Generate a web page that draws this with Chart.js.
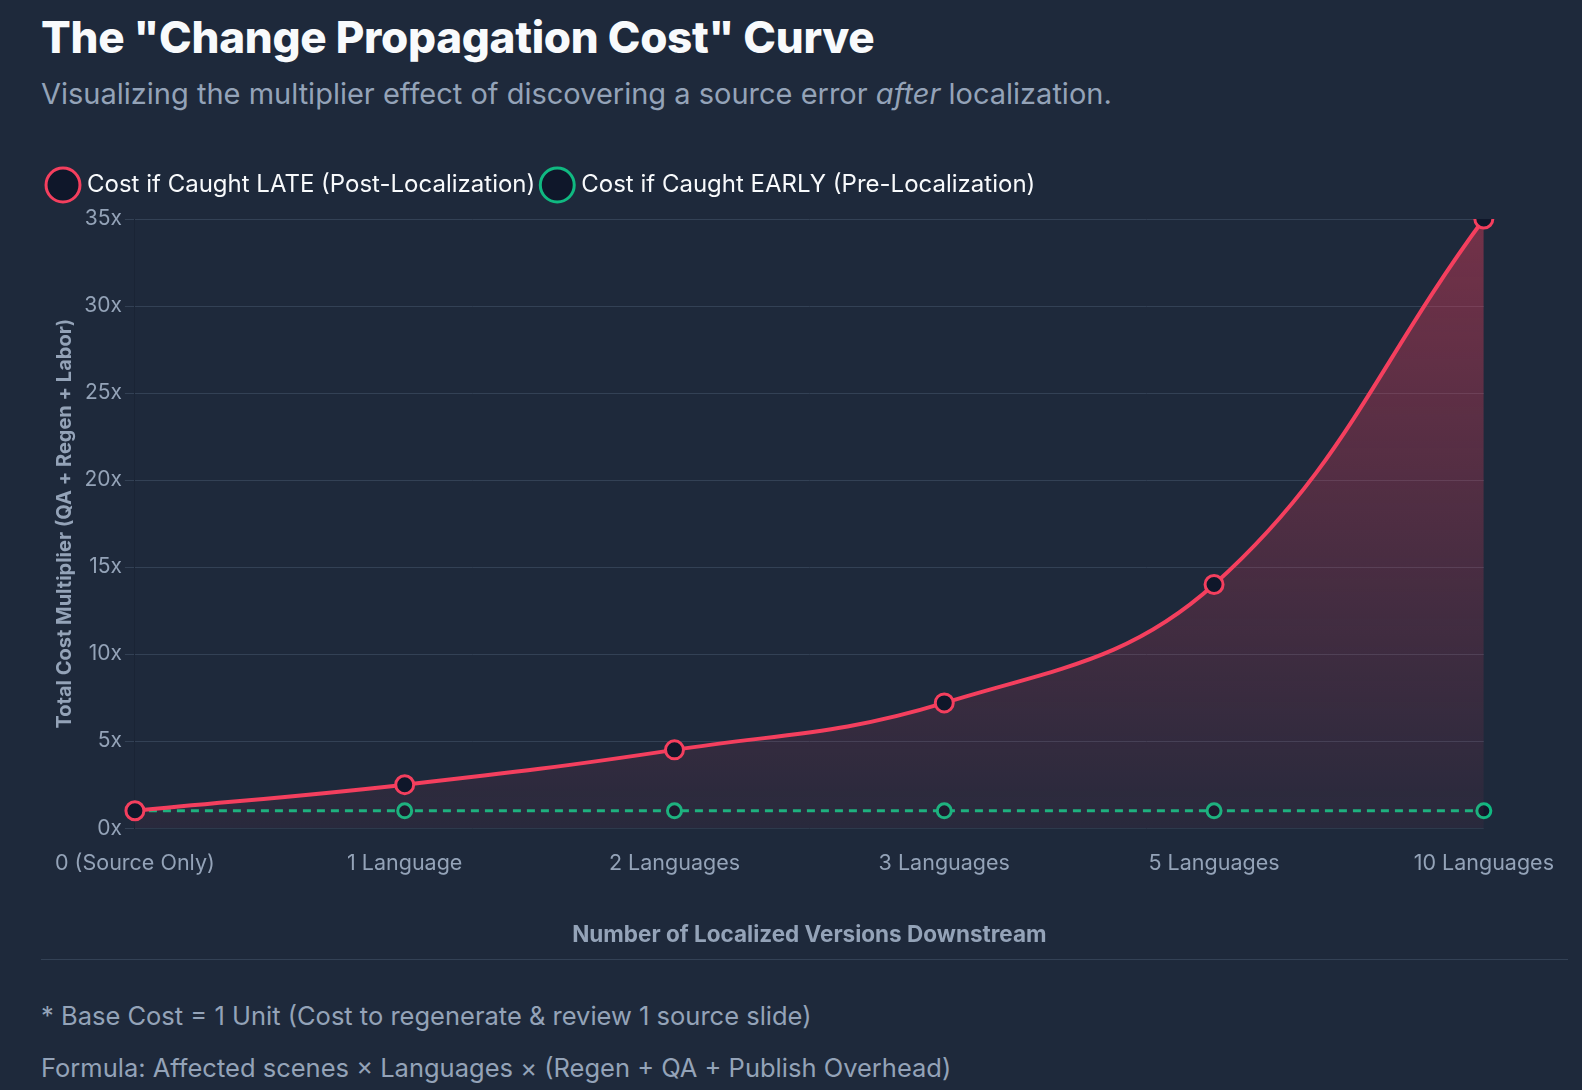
<!DOCTYPE html>
<html><head><meta charset="utf-8">
<script src="https://cdn.jsdelivr.net/npm/chart.js@4"></script>
<style>
body{margin:0;background:#1e293b;font-family:Inter,"Noto Sans",sans-serif;color:#f8fafc;}
.wrap{padding:0 14px 0 41px;}
h1{margin:0;padding-top:10px;font-size:44px;font-weight:800;letter-spacing:-0.3px;}
.sub{margin:12px 0 0;font-size:29px;color:#94a3b8;}
.box{position:relative;height:790px;margin-top:52px;}
hr{border:0;border-top:1px solid #334155;margin:6px 0 0;}
.foot{color:#94a3b8;font-size:25.5px;margin-top:30px;line-height:52px;}
</style></head><body>
<div class="wrap">
<h1>The "Change Propagation Cost" Curve</h1>
<p class="sub">Visualizing the multiplier effect of discovering a source error <i>after</i> localization.</p>
<div class="box"><canvas id="c"></canvas></div>
<hr>
<div class="foot">* Base Cost = 1 Unit (Cost to regenerate &amp; review 1 source slide)<br>Formula: Affected scenes × Languages × (Regen + QA + Publish Overhead)</div>
</div>
<script>
const categories = ['0 (Source Only)', '1 Language', '2 Languages', '3 Languages', '5 Languages', '10 Languages'];
const lateCost = [1, 2.5, 4.5, 7.2, 14, 35];
const earlyCost = [1, 1, 1, 1, 1, 1];

const ctx = document.getElementById('c').getContext('2d');
Chart.defaults.font.family = 'Inter, "Noto Sans", sans-serif';
const legendGap = {
  id: 'legendGap',
  beforeInit(chart) {
    const fit = chart.legend.fit;
    chart.legend.fit = function () { fit.bind(chart.legend)(); this.height += 12; };
  }
};
new Chart(ctx, {
  type: 'line',
  plugins: [legendGap],
  data: {
    labels: categories,
    datasets: [{
      label: 'Cost if Caught LATE (Post-Localization)',
      data: lateCost,
      borderColor: '#f43f5e',
      borderWidth: 4,
      backgroundColor: (c) => {
        const a = c.chart.chartArea;
        if (!a) return 'rgba(244,63,94,0.3)';
        const g = c.chart.ctx.createLinearGradient(0, a.top, 0, a.bottom);
        g.addColorStop(0, 'rgba(244,63,94,0.4)');
        g.addColorStop(1, 'rgba(244,63,94,0.05)');
        return g;
      },
      fill: true,
      tension: 0.4,
      pointRadius: 9,
      pointBorderWidth: 3,
      pointBackgroundColor: '#0f172a',
      pointBorderColor: '#f43f5e'
    }, {
      label: 'Cost if Caught EARLY (Pre-Localization)',
      data: earlyCost,
      borderColor: '#10b981',
      borderWidth: 3,
      borderDash: [8, 6],
      fill: false,
      pointRadius: 7,
      pointBorderWidth: 3,
      pointBackgroundColor: '#0f172a',
      pointBorderColor: '#10b981'
    }]
  },
  options: {
    responsive: true,
    maintainAspectRatio: false,
    animation: false,
    layout: { padding: { right: 80, left: 0 } },
    plugins: {
      legend: {
        align: 'start',
        labels: { color: '#f8fafc', font: { size: 24 }, usePointStyle: true, boxWidth: 32, boxHeight: 32, padding: 10 }
      }
    },
    scales: {
      x: {
        offset: false,
        grid: { display: false },
        ticks: { color: '#94a3b8', font: { size: 21.5 }, padding: 14 },
        title: { display: true, text: 'Number of Localized Versions Downstream', color: '#94a3b8', font: { size: 22.5, weight: 'bold' }, padding: { top: 32 } }
      },
      y: {
        min: 0, max: 35,
        grid: { color: '#334155', tickLength: 10 },
        ticks: { stepSize: 5, color: '#94a3b8', font: { size: 21 }, callback: v => v + 'x' },
        title: { display: true, text: 'Total Cost Multiplier (QA + Regen + Labor)', color: '#94a3b8', font: { size: 20, weight: 'bold' } }
      }
    }
  }
});
</script>
</body></html>
